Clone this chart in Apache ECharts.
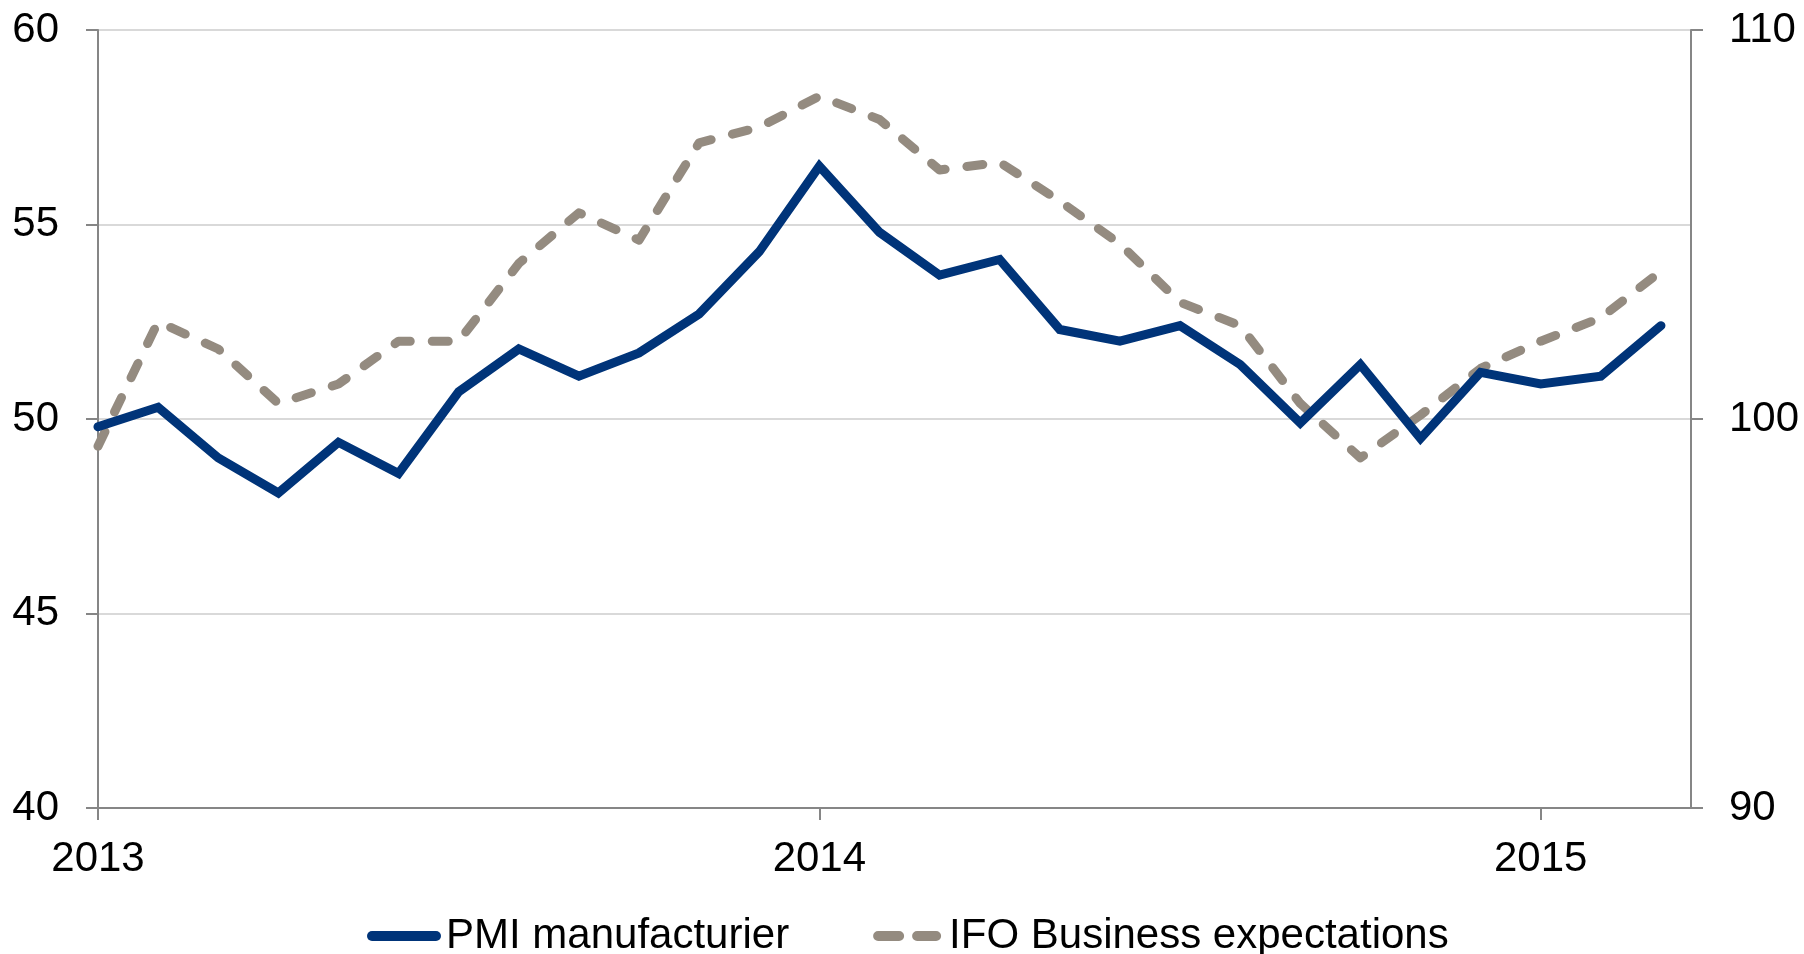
<!DOCTYPE html>
<html>
<head>
<meta charset="utf-8">
<title>PMI vs IFO</title>
<script src="https://cdn.jsdelivr.net/npm/echarts@6/dist/echarts.min.js"></script>
<style>
  html, body { margin: 0; padding: 0; background: #fff; }
  #chart { width: 1804px; height: 954px; }
</style>
</head>
<body>
<div id="chart"></div>
<script>
// monthly observations, Jan 2013 .. Mar 2015
var months = ['2013-01','2013-02','2013-03','2013-04','2013-05','2013-06','2013-07','2013-08','2013-09',
  '2013-10','2013-11','2013-12','2014-01','2014-02','2014-03','2014-04','2014-05','2014-06','2014-07',
  '2014-08','2014-09','2014-10','2014-11','2014-12','2015-01','2015-02','2015-03'];
var pmi = [49.8, 50.3, 49.0, 48.1, 49.4, 48.6, 50.7, 51.8, 51.1, 51.7, 52.7, 54.3, 56.5, 54.8,
  53.7, 54.1, 52.3, 52.0, 52.4, 51.4, 49.9, 51.4, 49.5, 51.2, 50.9, 51.1, 52.4];
var ifo = [99.3, 102.5, 101.8, 100.4, 100.9, 102.0, 102.0, 104.0, 105.3, 104.6, 107.1, 107.5, 108.3, 107.7,
  106.4, 106.6, 105.6, 104.5, 103.0, 102.4, 100.4, 99.0, 100.1, 101.3, 102.0, 102.6, 103.8];
var yearTicks = [2013, 2014, 2015];

// month string -> months since Jan 2013
function monthIndex(m) {
    var p = m.split('-');
    return (parseInt(p[0], 10) - yearTicks[0]) * 12 + parseInt(p[1], 10) - 1;
}
function pairs(vals) {
    return vals.map(function (v, i) { return [monthIndex(months[i]), v]; });
}
var yearPos = yearTicks.map(function (y) { return (y - yearTicks[0]) * 12; });

var font = 'Liberation Sans, Arial, sans-serif';
var axisGrey = '#868686';
var navy = '#003479';
var taupe = '#948b80';

// legend icons: one thick rounded bar, and two rounded dashes
var solidIcon = 'path://M5,0 H69 A5,5 0 0 1 69,10 H5 A5,5 0 0 1 5,0 Z';
var dashIcon = 'path://M5,0 H26 A5,5 0 0 1 26,10 H5 A5,5 0 0 1 5,0 Z M44,0 H63 A5,5 0 0 1 63,10 H44 A5,5 0 0 1 44,0 Z';

var chart = echarts.init(document.getElementById('chart'));
var option = {
    animation: false,
    backgroundColor: '#ffffff',
    grid: { left: 98, right: 113, top: 30, bottom: 146, containLabel: false },
    legend: {
        top: 910,
        left: 362,
        itemWidth: 74,
        itemHeight: 10,
        itemGap: 84,
        textStyle: { fontFamily: font, fontSize: 42, color: '#000' },
        data: [
            { name: 'PMI manufacturier', icon: solidIcon, itemStyle: { color: navy } },
            { name: 'IFO Business expectations', icon: dashIcon, itemStyle: { color: taupe } }
        ]
    },
    xAxis: {
        type: 'value',
        min: 0,
        max: 26.5,
        interval: 12,
        axisLine: { show: true, lineStyle: { color: axisGrey, width: 2 } },
        axisTick: { show: true, inside: false, length: 12, customValues: yearPos, lineStyle: { color: axisGrey, width: 2 } },
        axisLabel: {
            customValues: yearPos,
            margin: 30,
            fontFamily: font, fontSize: 42, color: '#000',
            formatter: function (v) { return String(yearTicks[0] + Math.round(v / 12)); }
        },
        splitLine: { show: false }
    },
    yAxis: [
        {
            type: 'value',
            min: 40, max: 60, interval: 5,
            axisLine: { show: true, lineStyle: { color: axisGrey, width: 2 } },
            axisTick: { show: true, length: 12, lineStyle: { color: axisGrey, width: 2 } },
            axisLabel: { margin: 39, fontFamily: font, fontSize: 42, color: '#000' },
            splitLine: { show: true, lineStyle: { color: '#d9d9d9', width: 2 } }
        },
        {
            type: 'value',
            min: 90, max: 110, interval: 10,
            position: 'right',
            axisLine: { show: true, lineStyle: { color: axisGrey, width: 2 } },
            axisTick: { show: true, length: 12, lineStyle: { color: axisGrey, width: 2 } },
            axisLabel: { margin: 38, fontFamily: font, fontSize: 42, color: '#000' },
            splitLine: { show: false }
        }
    ],
    series: [
        {
            name: 'PMI manufacturier',
            type: 'line',
            yAxisIndex: 0,
            symbol: 'none',
            z: 3,
            data: pairs(pmi),
            itemStyle: { color: navy },
            lineStyle: { color: navy, width: 9, cap: 'round', join: 'miter' }
        },
        {
            name: 'IFO Business expectations',
            type: 'line',
            yAxisIndex: 1,
            symbol: 'none',
            z: 2,
            data: pairs(ifo),
            itemStyle: { color: taupe },
            lineStyle: { color: taupe, width: 9, type: [16, 22], cap: 'round', join: 'round' }
        }
    ]
};
chart.setOption(option);
</script>
</body>
</html>
